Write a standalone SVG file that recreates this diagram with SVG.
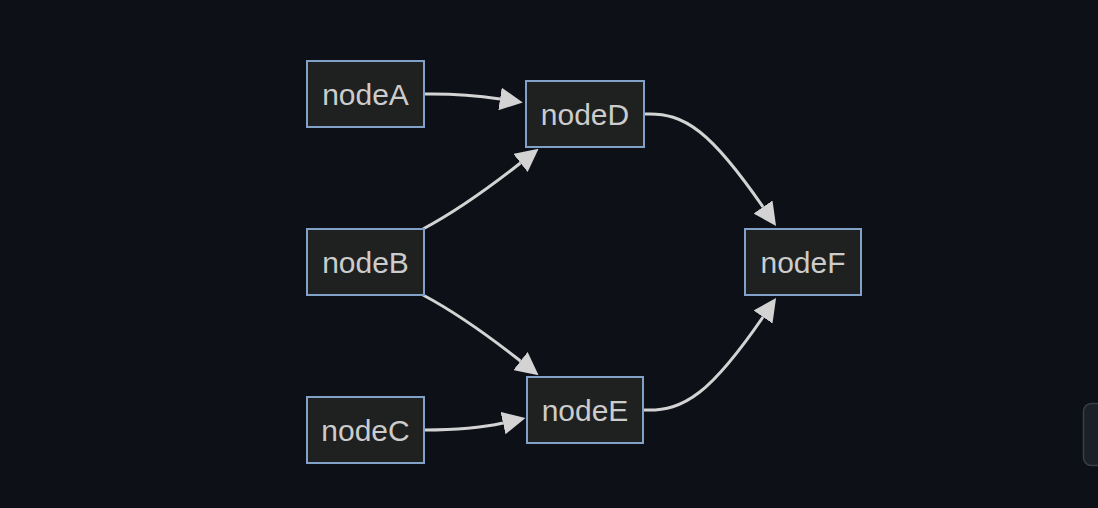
<svg xmlns="http://www.w3.org/2000/svg" width="1098" height="508" viewBox="0 0 1098 508">
<style>
.node rect{fill:#1f2020;stroke:#81a1c9;stroke-width:2}
.node text{fill:#cccccc;font-family:"Liberation Sans",Arial,sans-serif;font-size:30px;text-anchor:middle}
.edge{fill:none;stroke:#d3d3d3;stroke-width:3}
</style>
<defs>
<marker id="arrow" markerUnits="userSpaceOnUse" markerWidth="23" markerHeight="23" refX="0" refY="11.5" orient="auto">
<path d="M0,0 L23,11.5 L0,23 z" fill="#d3d3d3"/>
</marker>
</defs>
<rect width="1098" height="508" fill="#0d1117"/>
<rect x="1083.5" y="403.5" width="40" height="62" rx="8" fill="#1c2028" stroke="#3a3f47" stroke-width="1.5"/>
<g id="edges">
<path class="edge" d="M425,94 C460,93.5 480,96 500,99" marker-end="url(#arrow)"/>
<path class="edge" d="M423,229 C455,212 490,187 520.5,163" marker-end="url(#arrow)"/>
<path class="edge" d="M423,295 C455,312 490,337 520.5,361" marker-end="url(#arrow)"/>
<path class="edge" d="M425,430 C465,430 485,427 503,423" marker-end="url(#arrow)"/>
<path class="edge" d="M645,114 C685,112 712,133 763,207" marker-end="url(#arrow)"/>
<path class="edge" d="M644,410 C685,412 712,391 763,317" marker-end="url(#arrow)"/>
</g>
<g id="nodeA" class="node"><rect x="307" y="61" width="117" height="66"/><text x="365.5" y="104.5">nodeA</text></g>
<g id="nodeB" class="node"><rect x="307" y="229" width="117" height="66"/><text x="365.5" y="272.5">nodeB</text></g>
<g id="nodeC" class="node"><rect x="307" y="397" width="117" height="66"/><text x="365.5" y="440.5">nodeC</text></g>
<g id="nodeD" class="node"><rect x="526" y="81" width="118" height="66"/><text x="585" y="124.5">nodeD</text></g>
<g id="nodeE" class="node"><rect x="527" y="377" width="116" height="66"/><text x="585" y="420.5">nodeE</text></g>
<g id="nodeF" class="node"><rect x="745" y="229" width="116" height="66"/><text x="803" y="272.5">nodeF</text></g>
</svg>
